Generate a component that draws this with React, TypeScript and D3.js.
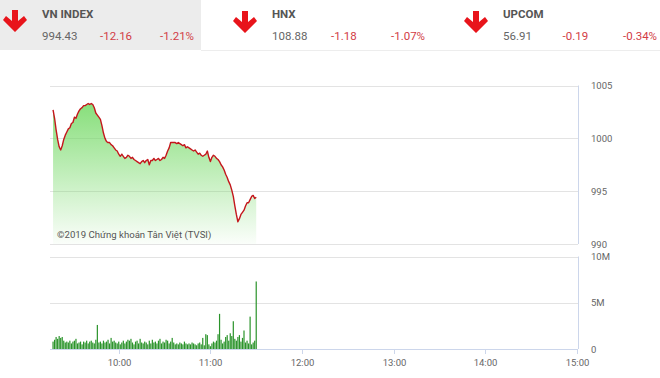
import React from "react";
import * as d3 from "d3";

// ---- Header data ----
const indexNames = ["VN INDEX", "HNX", "UPCOM"];
const indexValues = ["994.43", "108.88", "56.91"];
const indexChanges = ["-12.16", "-1.18", "-0.19"];
const indexPercents = ["-1.21%", "-1.07%", "-0.34%"];

// ---- Series (one point per minute, starting 09:17) ----
const seriesStart = "09:17";
const priceValues = [
  1002.7, 1001.9, 1000.8, 999.9, 999.2, 998.9, 999.3, 999.9, 1000.3,
  1000.6, 1000.9, 1001.0, 1001.4, 1001.5, 1002.0, 1001.9, 1002.3, 1002.6, 1002.8,
  1002.9, 1003.1, 1003.1, 1003.2, 1003.3, 1003.2, 1003.3, 1003.2, 1002.9, 1002.4,
  1002.2, 1002.0, 1001.8, 1001.2, 1000.5, 1000.0, 999.7, 999.6, 999.6, 999.4,
  999.3, 999.1, 998.9, 998.8, 998.5, 998.3, 998.5, 998.3, 998.1, 998.2,
  998.4, 998.3, 998.1, 998.2, 998.0, 997.9, 997.8, 997.7, 997.6, 997.8,
  997.9, 997.7, 997.9, 998.0, 997.5, 997.9, 997.9, 998.1, 997.9, 998.0,
  998.1, 997.9, 998.0, 998.2, 998.1, 998.4, 998.8, 999.1, 999.6, 999.6,
  999.6, 999.6, 999.5, 999.6, 999.5, 999.4, 999.3, 999.4, 999.1, 999.2,
  999.1, 999.0, 998.9, 998.8, 998.9, 998.7, 998.5, 998.6, 998.4, 998.3,
  998.4, 998.5, 998.8, 998.2, 997.8, 998.2, 998.4, 998.3, 998.1, 998.0,
  997.8, 997.5, 997.3, 997.0, 996.6, 996.3, 995.9, 995.6, 995.1, 994.5,
  993.6, 992.8, 992.1, 992.4, 992.8, 993.0, 993.2, 993.6, 993.9, 993.9,
  994.2, 994.5, 994.6, 994.3, 994.43,
];
const volumeValues = [
  0.8, 1.0, 1.3, 1.1, 1.4, 1.2, 1.3, 0.9, 0.7,
  0.8, 0.7, 0.9, 0.6, 0.8, 0.9, 1.1, 0.6, 0.7, 0.8,
  0.5, 0.8, 0.7, 0.9, 0.6, 0.8, 0.9, 0.7, 0.6, 1.0,
  2.6, 0.7, 0.8, 0.6, 0.9, 0.7, 0.8, 1.0, 0.6, 1.2,
  0.8, 0.9, 0.7, 0.6, 0.8, 0.5, 0.7, 0.9, 0.6, 0.8,
  1.0, 0.9, 1.1, 0.7, 0.5, 0.8, 0.9, 0.6, 1.1, 0.7,
  0.6, 0.8, 0.7, 0.5, 0.9, 0.6, 1.0, 0.7, 0.8, 0.6,
  0.9, 1.1, 0.6, 0.8, 0.7, 1.0, 0.9, 0.6, 0.8, 1.2,
  0.7, 0.5, 0.6, 0.5, 0.7, 0.6, 0.5, 0.8, 0.6, 0.5,
  0.6, 0.5, 0.7, 0.6, 0.5, 0.4, 0.6, 0.7, 0.5, 1.2,
  0.4, 1.6, 1.5, 0.5, 0.3, 0.6, 0.8, 0.7, 0.9, 1.6,
  3.8, 1.0, 0.6, 0.8, 1.3, 1.5, 0.9, 1.7, 1.4, 3.0,
  1.1, 0.9, 1.3, 1.5, 0.8, 1.2, 2.0, 0.7, 0.9, 0.6,
  3.5, 0.5, 0.7, 0.9, 7.3,
];
const priceTicks = [990, 995, 1000, 1005];
const volumeTicks = [0, 5, 10];
const volumeTickLabels = ["0", "5M", "10M"];
const timeTicks = ["10:00", "11:00", "12:00", "13:00", "14:00", "15:00"];
const sessionStart = "09:15";
const sessionEnd = "15:00";
const watermark = "©2019 Chứng khoán Tân Việt (TVSI)";

const parseT = d3.timeParse("%H:%M");
const startDate = parseT(seriesStart) as Date;
const timeAt = (i: number) => d3.timeMinute.offset(startDate, i);

const W = 660;
const H = 378;
const left = 50;
const right = 578;
const font = "Roboto, 'Open Sans', Arial, sans-serif";

function Arrow({ x, y }: { x: number; y: number }) {
  // down arrow, top-left at x,y
  const p = [
    [x + 8, y], [x + 14, y], [x + 14, y + 11], [x + 20, y + 6], [x + 23, y + 10],
    [x + 11, y + 22], [x - 1, y + 10], [x + 2, y + 6], [x + 8, y + 11],
  ];
  return <polygon points={p.map((d) => d.join(",")).join(" ")} fill="#e8141b" />;
}

export default function App() {
  const x = d3
    .scaleTime()
    .domain([parseT(sessionStart) as Date, parseT(sessionEnd) as Date])
    .range([left, 577]);
  const yP = d3.scaleLinear().domain([990, 1005]).range([244, 85.5]);
  const yV = d3.scaleLinear().domain([0, 10]).range([349, 256.5]);

  const priceData = priceValues.map((v, i) => ({ t: timeAt(i), v }));
  const line = d3
    .line<{ t: Date; v: number }>()
    .x((d) => x(d.t))
    .y((d) => yP(d.v));
  const area = d3
    .area<{ t: Date; v: number }>()
    .x((d) => x(d.t))
    .y0(yP(990))
    .y1((d) => yP(d.v));

  const headerX = [0, 230, 461];
  const colOffsets = [42, 100, 160];
  const colOffsets2 = [42, 101, 161];
  const colOffsets3 = [42, 101.5, 162];
  const offs = [colOffsets, colOffsets2, colOffsets3];

  return (
    <svg
      width={W}
      height={H}
      style={{ position: "absolute", left: 0, top: 0, background: "#fff" }}
      fontFamily={font}
    >
      <defs>
        <linearGradient id="g" gradientUnits="userSpaceOnUse" x1="0" y1="100" x2="0" y2="244">
          <stop offset="0" stopColor="#6fd860" stopOpacity="0.85" />
          <stop offset="1" stopColor="#6fd860" stopOpacity="0.03" />
        </linearGradient>
      </defs>

      {/* Header */}
      <rect x={0} y={0} width={201} height={50} fill="#ececec" />
      <line x1={201} x2={W} y1={50.5} y2={50.5} stroke="#ededed" />
      {indexNames.map((n, i) => (
        <g key={n}>
          <Arrow x={headerX[i] + 4} y={headerX[i] === 0 ? 10 : 11} />
          <text x={headerX[i] + offs[i][0]} y={18} fontSize={11.5} fontWeight="bold" fill="#555">
            {n}
          </text>
          <text x={headerX[i] + offs[i][0]} y={40} fontSize={11.5} fill="#666">
            {indexValues[i]}
          </text>
          <text x={headerX[i] + offs[i][1]} y={40} fontSize={11.5} fill="#d23c46">
            {indexChanges[i]}
          </text>
          <text x={headerX[i] + offs[i][2]} y={40} fontSize={11.5} fill="#d23c46">
            {indexPercents[i]}
          </text>
        </g>
      ))}

      {/* Price panel */}
      {priceTicks.map((t) => (
        <g key={t}>
          <line x1={left} x2={right} y1={Math.round(yP(t)) + 0.5} y2={Math.round(yP(t)) + 0.5} stroke="#e3e3e3" />
          <text x={591} y={yP(t) + 3.5} fontSize={9.5} fill="#666">
            {t}
          </text>
        </g>
      ))}
      <line x1={right + 0.5} x2={right + 0.5} y1={yP(1005)} y2={yP(990)} stroke="#ccd6eb" />
      <path d={area(priceData) || ""} fill="url(#g)" />
      <path d={line(priceData) || ""} fill="none" stroke="#c4161c" strokeWidth={1.4} strokeLinejoin="round" />
      <text x={57} y={238} fontSize={9.6} fill="#555">
        {watermark}
      </text>

      {/* Volume panel */}
      {volumeTicks.map((t, i) => (
        <g key={t}>
          <line
            x1={left}
            x2={right}
            y1={Math.round(yV(t)) + 0.5}
            y2={Math.round(yV(t)) + 0.5}
            stroke={t === 0 ? "#ccd6eb" : "#e3e3e3"}
          />
          <text x={591} y={yV(t) + 3.5} fontSize={9.5} fill="#666">
            {volumeTickLabels[i]}
          </text>
        </g>
      ))}
      <line x1={right + 0.5} x2={right + 0.5} y1={yV(10)} y2={yV(0)} stroke="#ccd6eb" />
      {volumeValues.map((v, i) => (
        <rect
          key={i}
          x={x(timeAt(i)) - 0.6}
          y={yV(v)}
          width={1.2}
          height={yV(0) - yV(v)}
          fill="#2a932a"
        />
      ))}
      {timeTicks.map((t) => {
        const xx = Math.round(x(parseT(t) as Date)) + 0.5;
        return (
          <g key={t}>
            <line x1={xx} x2={xx} y1={349} y2={354} stroke="#ccd6eb" />
            <text x={xx} y={366} fontSize={9.5} fill="#666" textAnchor="middle">
              {t}
            </text>
          </g>
        );
      })}
    </svg>
  );
}
